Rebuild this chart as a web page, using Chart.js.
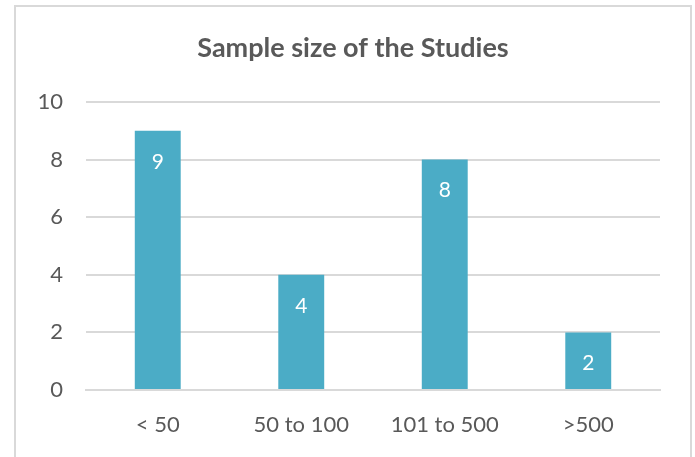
<!DOCTYPE html>
<html lang="en">
<head>
  <meta charset="UTF-8">
  <title>Sample size of the Studies</title>
  <script src="https://cdn.jsdelivr.net/npm/chart.js"></script>
  <style>
    body { margin: 0; background: #fff; }
    #frame {
      position: absolute; left: 14px; top: 5px;
      width: 674px; height: 470px;
      border: 2px solid #d9d9d9;
    }
  </style>
</head>
<body>
  <div id="frame">
    <canvas id="sizeChart" width="674" height="452"></canvas>
  </div>

  <script>
    // chart data
    const categories = ['< 50', '50 to 100', '101 to 500', '>500'];
    const studyCounts = [9, 4, 8, 2];
    const yTicks = [0, 2, 4, 6, 8, 10];

    const barColor = '#4bacc6';
    const textGray = '#595959';

    // white value labels inside the top of each bar
    const valueLabels = {
      id: 'valueLabels',
      afterDatasetsDraw(chart) {
        const ctx = chart.ctx;
        const meta = chart.getDatasetMeta(0);
        ctx.save();
        ctx.fillStyle = '#ffffff';
        ctx.font = '21px Lato';
        ctx.textAlign = 'center';
        ctx.textBaseline = 'middle';
        meta.data.forEach((bar, i) => {
          ctx.fillText(studyCounts[i], bar.x, bar.y + 31);
        });
        ctx.restore();
      }
    };

    const ctx = document.getElementById('sizeChart').getContext('2d');
    new Chart(ctx, {
      type: 'bar',
      data: {
        labels: categories,
        datasets: [{
          data: studyCounts,
          backgroundColor: barColor,
          barPercentage: 0.32,
          categoryPercentage: 1.0
        }]
      },
      options: {
        responsive: false,
        animation: false,
        layout: { padding: 0 },
        plugins: {
          legend: { display: false },
          tooltip: { enabled: false },
          title: {
            display: true,
            text: 'Sample size of the Studies',
            color: textGray,
            font: { family: 'Lato', size: 27, weight: 'bold' },
            padding: { top: 25, bottom: 37.6 }
          }
        },
        scales: {
          x: {
            grid: { display: false, drawTicks: false },
            border: { color: '#d9d9d9', width: 2 },
            ticks: {
              color: textGray,
              font: { family: 'Lato', size: 22 },
              padding: 22
            },
            afterFit(scale) { scale.height = 69; }
          },
          y: {
            min: 0,
            max: 10,
            afterBuildTicks(scale) {
              scale.ticks = yTicks.map(v => ({ value: v }));
            },
            grid: { color: '#d9d9d9', lineWidth: 2, drawTicks: false },
            border: { display: false },
            ticks: {
              color: textGray,
              font: { family: 'Lato', size: 22 },
              padding: 23
            },
            afterFit(scale) { scale.width = 70; }
          },
          // empty right-hand spacer so the title centres on the frame
          yRight: {
            position: 'right',
            min: 0,
            max: 10,
            grid: { display: false, drawTicks: false },
            border: { display: false },
            ticks: { display: false },
            afterFit(scale) { scale.width = 30; }
          }
        }
      },
      plugins: [valueLabels]
    });
  </script>
</body>
</html>
